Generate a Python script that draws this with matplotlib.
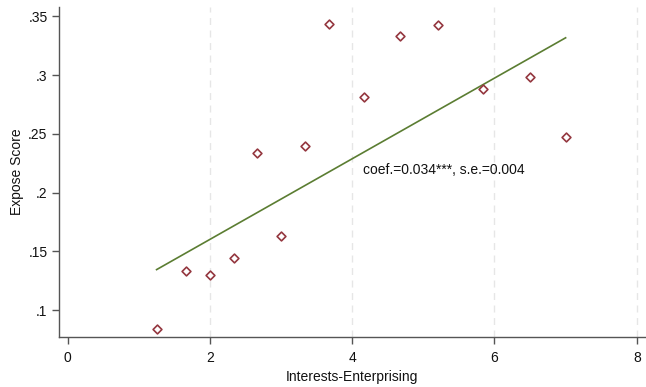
import numpy as np
import matplotlib
matplotlib.use("Agg")
import matplotlib.pyplot as plt

plt.rcParams['font.family'] = ['Liberation Sans', 'DejaVu Sans']

interests = [1.25, 1.667, 2.0, 2.333, 2.667, 3.0, 3.333, 3.667, 4.167, 4.667, 5.2, 5.833, 6.5, 7.0]
expose = [0.0843, 0.1335, 0.1303, 0.1443, 0.2342, 0.163, 0.240, 0.3436, 0.2817, 0.3336, 0.3424, 0.2879, 0.2987, 0.247]
fit_slope = 0.0343
fit_intercept = 0.0917
annotation = "coef.=0.034***, s.e.=0.004"
xticks = [0, 2, 4, 6, 8]
yticks = [0.1, 0.15, 0.2, 0.25, 0.3, 0.35]
ytick_labels = [".1", ".15", ".2", ".25", ".3", ".35"]

fig = plt.figure(figsize=(6.46, 3.87), dpi=100)
ax = fig.add_axes([58.7/646, 1 - 336.7/387, (646 - 58.7)/646, (336.7 - 7)/387])

x = np.array(interests)
y = np.array(expose)
ax.scatter(x, y, marker='D', s=20, facecolors='white', edgecolors='#94373f', linewidths=1.2, zorder=3)
xf = np.array([x.min(), x.max()])
ax.plot(xf, fit_intercept + fit_slope * xf, color='#5b7d32', lw=1.2, zorder=2)
ax.text(4.15, 0.2195, annotation, fontsize=10, va='center', ha='left', color='#111111')

ax.set_xlim(-0.126, 8.13)
ax.set_ylim(0.0775, 0.358)
ax.set_xticks(xticks)
ax.set_yticks(yticks)
ax.set_yticklabels(ytick_labels)
for gx in [2, 4, 6, 8]:
    ax.axvline(gx, color='#e6e6e6', lw=1.0, ls=(0, (5, 4)), zorder=1)

for s in ['top', 'right']:
    ax.spines[s].set_visible(False)
for s in ['left', 'bottom']:
    ax.spines[s].set_color('#555555')
    ax.spines[s].set_linewidth(1.0)
ax.tick_params(axis='both', direction='out', length=5, width=1.0, color='#555555', labelsize=10, labelcolor='#111111')
ax.tick_params(axis='x', pad=5)
ax.tick_params(axis='y', pad=3)
ax.set_xlabel("Interests-Enterprising", fontsize=10, color='#111111', labelpad=4)
ax.set_ylabel("Expose Score", fontsize=10, color='#111111', labelpad=3)

fig.savefig("out.png", dpi=100, facecolor='white')
